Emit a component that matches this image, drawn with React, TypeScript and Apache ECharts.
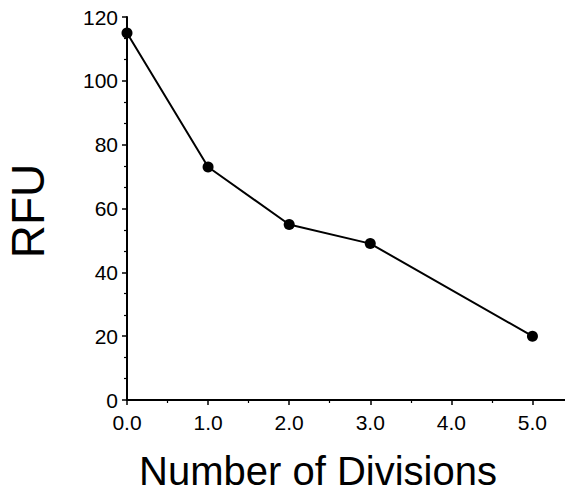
import React, { useEffect, useRef } from "react";
import * as echarts from "echarts";

const divisions = [0, 1, 2, 3, 5];
const rfuValues = [115, 73, 55, 49, 20];
const xTitle = "Number of Divisions";
const yTitle = "RFU";

const FONT = '"Liberation Sans", Arial, Helvetica, sans-serif';

export default function App() {
  const ref = useRef<HTMLDivElement>(null);
  useEffect(() => {
    if (!ref.current) return;
    const chart = echarts.init(ref.current, null, { renderer: "svg" });
    chart.setOption({
      animation: false,
      backgroundColor: "#ffffff",
      grid: { left: 127, right: 0, top: 17, bottom: 93, containLabel: false },
      xAxis: {
        type: "value",
        min: 0,
        max: 5.5,
        interval: 1,
        axisLine: { show: true, lineStyle: { color: "#000", width: 2 } },
        axisTick: { show: true, inside: false, length: 5, lineStyle: { color: "#000", width: 1.5 } },
        minorTick: { show: true, splitNumber: 2, length: 3, lineStyle: { color: "#000", width: 1.2 } },
        splitLine: { show: false },
        minorSplitLine: { show: false },
        axisLabel: {
          color: "#000",
          fontSize: 21,
          fontFamily: FONT,
          margin: 12,
          showMaxLabel: false,
          formatter: (v: number) => (Number.isInteger(v) ? v.toFixed(1) : ""),
        },
      },
      yAxis: {
        type: "value",
        min: 0,
        max: 120,
        interval: 20,
        axisLine: { show: true, lineStyle: { color: "#000", width: 2 } },
        axisTick: { show: true, inside: false, length: 5, lineStyle: { color: "#000", width: 1.5 } },
        minorTick: { show: true, splitNumber: 3, length: 3, lineStyle: { color: "#000", width: 1.2 } },
        splitLine: { show: false },
        minorSplitLine: { show: false },
        axisLabel: {
          color: "#000",
          fontSize: 21,
          fontFamily: FONT,
          margin: 9,
        },
      },
      graphic: [
        {
          type: "text",
          x: 318,
          y: 471,
          style: {
            text: xTitle,
            font: `40px ${FONT}`,
            fill: "#000",
            align: "center",
            verticalAlign: "middle",
          },
        },
        {
          type: "text",
          x: 28,
          y: 211,
          rotation: Math.PI / 2,
          style: {
            text: yTitle,
            font: `46px ${FONT}`,
            fill: "#000",
            align: "center",
            verticalAlign: "middle",
          },
        },
      ],
      series: [
        {
          type: "line",
          data: divisions.map((d, i) => [d, rfuValues[i]]),
          clip: false,
          symbol: "circle",
          symbolSize: 11,
          itemStyle: { color: "#000" },
          lineStyle: { color: "#000", width: 2 },
        },
      ],
    });
    return () => chart.dispose();
  }, []);
  return <div ref={ref} style={{ width: 573, height: 493, margin: -8 }} />;
}
